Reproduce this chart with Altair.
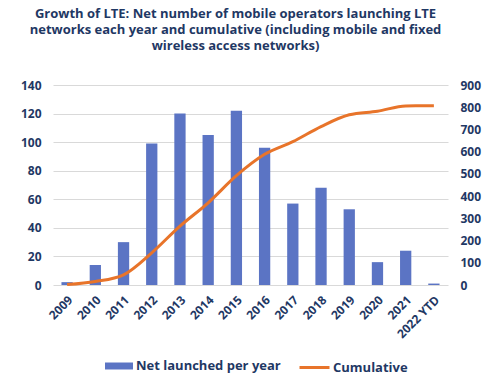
import altair as alt
import pandas as pd

years = ["2009", "2010", "2011", "2012", "2013", "2014", "2015", "2016",
         "2017", "2018", "2019", "2020", "2021", "2022 YTD"]
net_launched = [2, 14, 30, 99, 120, 105, 122, 96, 57, 68, 53, 16, 24, 1]
cumulative = [2, 16, 46, 145, 265, 370, 492, 588, 645, 713, 766, 782, 806, 807]

NAVY = "#1f3864"
BLUE = "#5b74c4"
ORANGE = "#e8742a"
FONT = "Open Sans"

df = pd.DataFrame({
    "year": years,
    "net": net_launched,
    "cum": cumulative,
    "s1": ["Net launched per year"] * len(years),
    "s2": ["Cumulative"] * len(years),
})

x = alt.X("year:N", sort=years, title=None,
          scale=alt.Scale(paddingInner=0.6, paddingOuter=0.3),
          axis=alt.Axis(labelAngle=-45, labelFontSize=12, labelFontWeight="bold",
                        labelColor=NAVY, labelFont=FONT, ticks=False, domain=False,
                        labelPadding=9))

legend_common = dict(title=None, orient="none", legendY=266, direction="horizontal",
                     symbolSize=900, labelFontSize=13, labelFontWeight="bold",
                     labelColor=NAVY, labelFont=FONT, labelOffset=2)

bars = alt.Chart(df).mark_bar(color=BLUE).encode(
    x=x,
    y=alt.Y("net:Q", title=None,
            scale=alt.Scale(domain=[0, 140]),
            axis=alt.Axis(orient="left", values=list(range(0, 141, 20)),
                          labelFontSize=12, labelFontWeight="bold", labelColor=NAVY,
                          labelFont=FONT, ticks=False, domain=False, grid=True,
                          gridColor="#d9d9d9", labelPadding=12)),
    color=alt.Color("s1:N", scale=alt.Scale(range=[BLUE]),
                    legend=alt.Legend(legendX=51,
                                      symbolType="M-0.933,-0.233H0.933V0.233H-0.933Z",
                                      symbolStrokeWidth=0, **legend_common)),
)

line = alt.Chart(df).mark_line(strokeWidth=3, interpolate="monotone").encode(
    x=x,
    y=alt.Y("cum:Q", title=None,
            scale=alt.Scale(domain=[0, 900]),
            axis=alt.Axis(orient="right", values=list(range(0, 901, 100)),
                          labelFontSize=12, labelFontWeight="bold", labelColor=NAVY,
                          labelFont=FONT, ticks=False, domain=False, grid=False,
                          labelPadding=12)),
    stroke=alt.Stroke("s2:N", scale=alt.Scale(range=[ORANGE]),
                      legend=alt.Legend(legendX=245, symbolType="stroke",
                                        symbolStrokeWidth=3, **legend_common)),
)

chart = alt.layer(bars, line).resolve_scale(
    y="independent", color="independent", stroke="independent"
).properties(
    width=395, height=200,
    padding={"left": 12, "top": 0, "right": 5, "bottom": 5},
    title=alt.TitleParams(
        text=["Growth of LTE: Net number of mobile operators launching LTE",
              "networks each year and cumulative (including mobile and fixed",
              "wireless access networks)"],
        font=FONT, fontSize=13, fontWeight="bold", color=NAVY,
        anchor="middle", lineHeight=16, offset=26, dx=-15,
    ),
).configure_view(stroke=None)

chart.save("out.html", embed_options={"renderer": "svg", "actions": False})
